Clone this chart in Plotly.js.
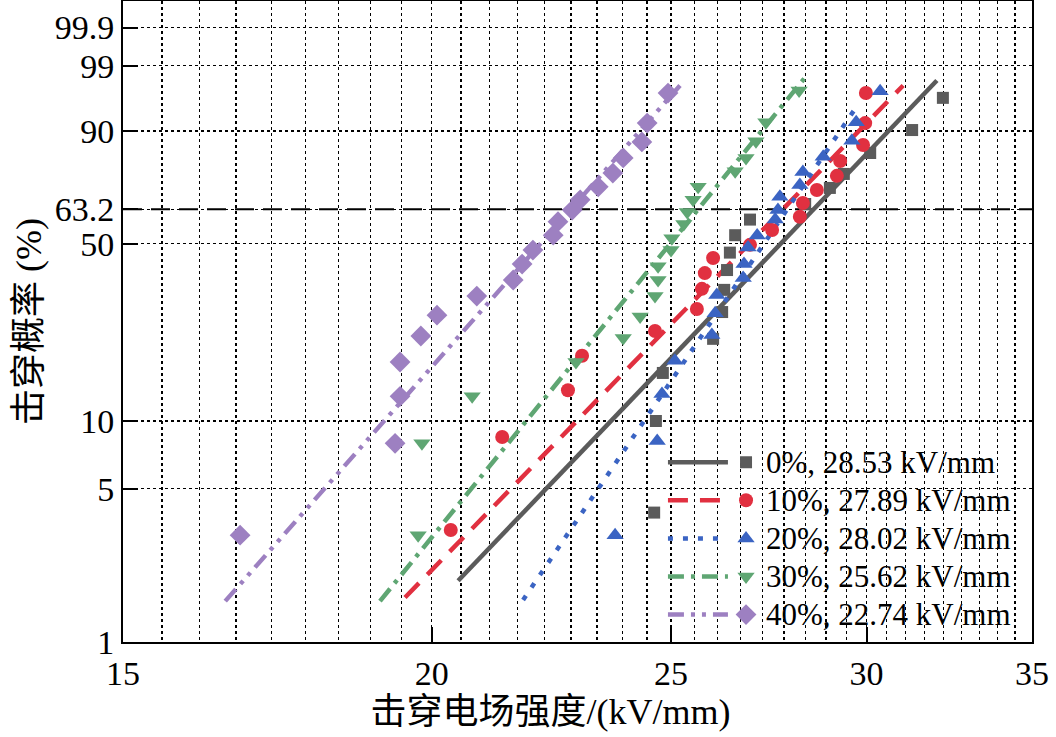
<!DOCTYPE html>
<html><head><meta charset="utf-8">
<script src="https://cdn.plot.ly/plotly-3.0.1.min.js"></script>
<style>html,body{margin:0;padding:0;background:#fff}#chart{width:1056px;height:737px}</style>
</head><body><div id="chart"></div>
<script>
// ---- data (breakdown field kV/mm, cumulative failure probability %) ----
const seriesLabels = ['0%, 28.53 kV/mm', '10%, 27.89 kV/mm', '20%, 28.02 kV/mm', '30%, 25.62 kV/mm', '40%, 22.74 kV/mm'];

const grayE = [24.61, 24.65, 24.81, 26.00, 26.22, 26.27, 26.34, 26.41, 26.54, 26.91, 28.33, 28.99, 29.37, 30.10, 31.30, 32.21];
const grayF = [3.9, 10.0, 16.1, 22.3, 28.5, 34.6, 40.8, 46.8, 53.2, 59.2, 65.3, 71.5, 76.7, 83.8, 90.2, 96.2];

const redE = [20.36, 21.36, 22.71, 23.01, 24.63, 25.61, 25.73, 25.80, 26.00, 26.91, 27.47, 28.19, 28.27, 28.64, 29.18, 29.27, 29.90, 29.96, 29.98];
const redF = [3.25, 8.50, 13.6, 19.0, 24.0, 29.3, 34.9, 39.8, 44.9, 49.6, 55.2, 60.3, 65.7, 70.7, 76.0, 81.2, 86.2, 91.8, 96.8];

const blueE = [23.73, 24.68, 24.79, 25.09, 25.97, 26.05, 26.09, 26.74, 26.76, 26.86, 27.09, 27.55, 27.62, 27.67, 28.19, 28.27, 28.81, 29.59, 29.71, 30.38];
const blueF = [3.08, 8.16, 13.1, 18.1, 23.1, 28.2, 33.1, 38.2, 42.8, 48.6, 53.1, 59.2, 62.9, 68.1, 72.6, 77.4, 82.6, 87.4, 92.0, 97.0];

const greenE = [19.75, 19.82, 20.77, 22.88, 23.91, 24.29, 24.63, 24.70, 24.70, 25.00, 25.02, 25.30, 25.38, 25.52, 25.64, 26.54, 26.81, 27.06, 27.31, 28.17];
const greenF = [3.08, 7.97, 12.8, 17.9, 22.5, 27.4, 32.8, 37.6, 42.1, 47.7, 52.1, 57.5, 62.2, 66.9, 71.9, 77.7, 82.2, 87.3, 92.0, 97.1];

const purpleE = [16.73, 19.33, 19.42, 19.42, 19.80, 20.10, 20.86, 21.58, 21.76, 21.98, 22.40, 22.50, 22.80, 22.97, 23.36, 23.68, 23.91, 24.33, 24.45, 24.93];
const purpleF = [3.08, 7.97, 12.8, 17.9, 22.9, 27.7, 32.8, 37.6, 42.8, 47.7, 53.2, 58.4, 62.9, 66.9, 71.9, 77.0, 82.2, 87.1, 91.8, 96.8];

// Weibull fit lines (end points)
const grayLineE = [20.50, 32.03],   grayLineF = [1.91, 98.04];
const redLineE = [19.51, 31.04],    redLineF = [1.60, 97.6];
const blueLineE = [21.78, 29.73],   blueLineF = [1.56, 95.0];
const greenLineE = [19.06, 28.38],  greenLineF = [1.54, 98.45];
const purpleLineE = [16.50, 25.21], purpleLineF = [1.54, 97.6];

// ticks
const xTickVals = [15, 20, 25, 30, 35];
const yTickVals = [1, 5, 10, 50, 63.2, 90, 99, 99.9];
const charLife = 63.2;

// ---- helpers ----
const wb = F => Math.log(-Math.log(1 - F / 100));   // Weibull probability scale
const FONT = '"Liberation Serif", "Times New Roman", "Noto Sans CJK SC", serif';

const colors = ['#5b5b5b', '#e13040', '#3b64c3', '#5fa673', '#9d80c1'];
const symbols = ['square', 'circle', 'triangle-up', 'triangle-down', 'diamond'];
const msizes = [12, 14, 15, 15, 16];
const dashes = ['solid', '20px,12px', '5px,10px', '16px,7px,4px,7px', '16px,7px,4px,7px,4px,7px'];

const pts = [[grayE, grayF], [redE, redF], [blueE, blueF], [greenE, greenF], [purpleE, purpleF]];
const fits = [[grayLineE, grayLineF], [redLineE, redLineF], [blueLineE, blueLineF], [greenLineE, greenLineF], [purpleLineE, purpleLineF]];

const traces = [];
fits.forEach((f, i) => {
  traces.push({
    type: 'scatter', mode: 'lines', x: f[0], y: f[1].map(wb),
    line: {color: colors[i], width: 4.5, dash: dashes[i]},
    name: '', legend: 'legend', showlegend: true, hoverinfo: 'skip'
  });
});
pts.forEach((p, i) => {
  traces.push({
    type: 'scatter', mode: 'markers', x: p[0], y: p[1].map(wb),
    marker: {color: colors[i], symbol: symbols[i], size: msizes[i], line: {width: 0}},
    name: '<span style="font-size:31px">' + seriesLabels[i] + '</span>',
    legend: 'legend2', showlegend: true
  });
});

// minor x gridlines: 8 evenly spaced values between consecutive major ticks
const xMinor = [];
for (let k = 0; k < xTickVals.length - 1; k++) {
  const a = xTickVals[k], b = xTickVals[k + 1];
  for (let j = 1; j <= 8; j++) xMinor.push(a + (b - a) * j / 9);
}

const pxPerUnit = 94.06;
const yTop = wb(1) + 641 / pxPerUnit;
// trailing non-breaking spaces (kept by a zero-width char) nudge the centred x title left, as in the original
const titlePad = '\u00a0'.repeat(6) + '\u200b';

const layout = {
  width: 1056, height: 737,
  margin: {l: 123, r: 24, t: 1, b: 95},
  paper_bgcolor: '#fff', plot_bgcolor: '#fff',
  font: {family: FONT, color: '#000', size: 34},
  xaxis: {
    type: 'log', range: [Math.log10(15), Math.log10(35)],
    tickmode: 'array', tickvals: xTickVals, ticktext: xTickVals.map(String),
    ticks: 'inside', ticklen: 15, tickwidth: 2, tickcolor: '#000',
    showline: true, linewidth: 2, linecolor: '#000', mirror: true,
    showgrid: true, gridcolor: '#000', griddash: 'dot', gridwidth: 1.4,
    minor: {tickmode: 'array', tickvals: xMinor, ticks: '', showgrid: true, gridcolor: '#000', griddash: 'dot', gridwidth: 1.4},
    zeroline: false, tickfont: {size: 34, family: FONT},
    title: {text: '击穿电场强度/(kV/mm)' + titlePad, font: {size: 36, family: FONT}, standoff: 8}
  },
  yaxis: {
    range: [wb(1), yTop],
    tickmode: 'array', tickvals: yTickVals.map(wb), ticktext: yTickVals.map(String),
    ticks: 'inside', ticklen: 15, tickwidth: 2, tickcolor: '#000',
    showline: true, linewidth: 2, linecolor: '#000', mirror: true,
    showgrid: true, gridcolor: '#000', griddash: 'dot', gridwidth: 1.4,
    zeroline: false, tickfont: {size: 34, family: FONT},
    title: {text: '击穿概率 (%)', font: {size: 36, family: FONT}, standoff: 2}
  },
  shapes: [
    {type: 'rect', xref: 'paper', yref: 'paper', x0: 0.593, x1: 0.998, y0: 0.024, y1: 0.32,
     fillcolor: '#fff', line: {width: 0}, layer: 'between'},
    {type: 'line', xref: 'paper', yref: 'y', x0: 0, x1: 1, y0: wb(charLife), y1: wb(charLife),
     line: {color: '#000', width: 2, dash: '19px,9px'}, layer: 'between'}
  ],
  legend: {x: 0.594, y: 0.318, xanchor: 'left', yanchor: 'top', bgcolor: 'rgba(0,0,0,0)',
           borderwidth: 0, font: {size: 27, family: FONT}, itemwidth: 60, tracegroupgap: 0},
  legend2: {x: 0.6634, y: 0.318, xanchor: 'left', yanchor: 'top', bgcolor: 'rgba(0,0,0,0)',
            borderwidth: 0, font: {size: 27, family: FONT}, itemwidth: 30, tracegroupgap: 0},
  showlegend: true
};

Plotly.newPlot('chart', traces, layout, {displayModeBar: false, staticPlot: true});
</script>
</body></html>
